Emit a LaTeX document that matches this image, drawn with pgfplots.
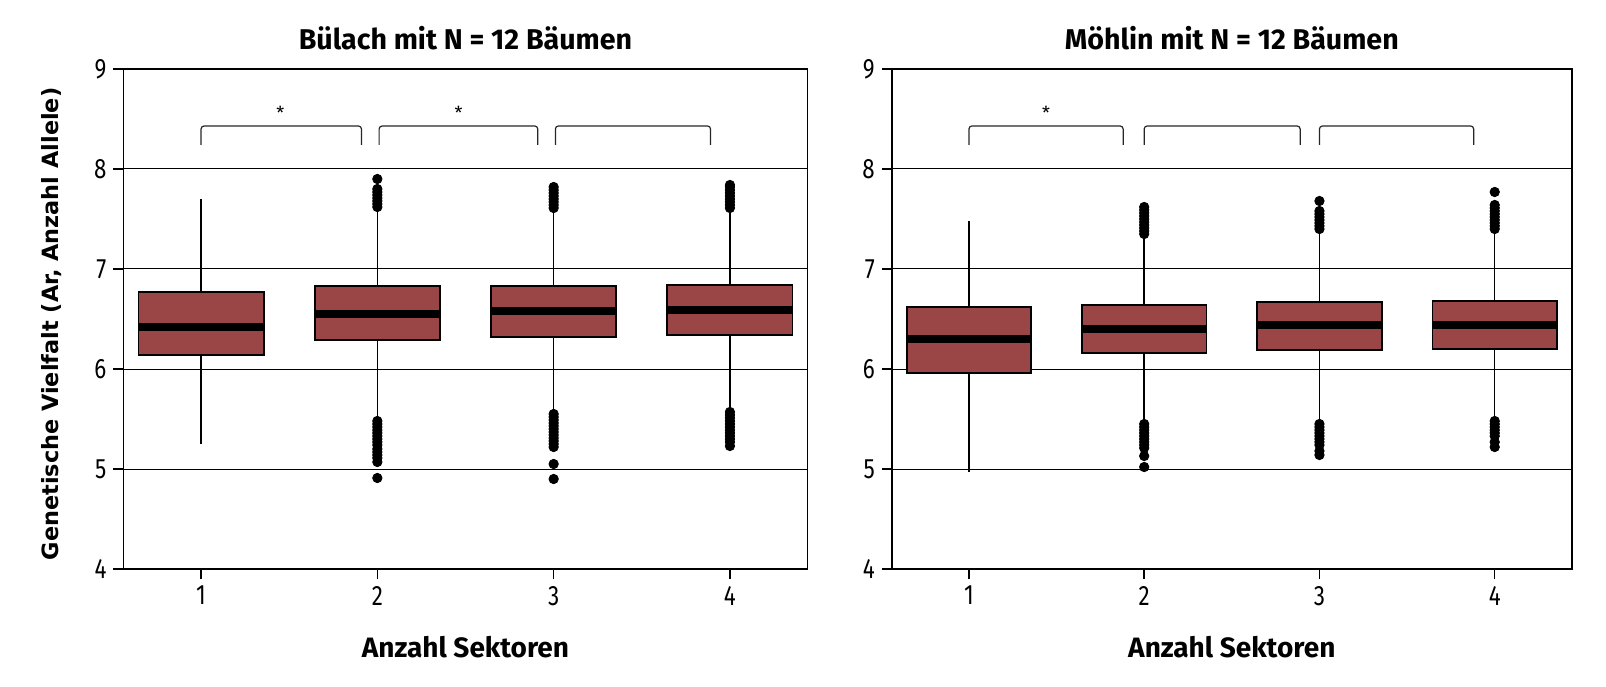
\documentclass[border=0pt]{standalone}
\usepackage{fontspec}
\setmainfont{Fira Sans}
\newfontfamily\tickfont[FakeStretch=0.8]{Fira Sans}
\newfontfamily\ylfont{DejaVu Sans}
\usepackage{pgfplots}
\pgfplotsset{compat=1.18}
\definecolor{boxred}{HTML}{9A4646}
\tikzset{brk/.style={black!85, line width=0.6pt, rounded corners=1.5pt}}
\pgfplotsset{
  myaxis/.style={
    scale only axis,
    width=#1, height=250pt,
    xmin=0.56, xmax=4.44,
    ymin=4, ymax=9,
    xtick={1,2,3,4},
    ytick={4,5,6,7,8,9},
    tick pos=left,
    tick align=outside,
    major tick length=5pt,
    ymajorgrids,
    grid style={black, line width=0.5pt},
    axis line style={line width=0.7pt},
    tick style={black, line width=0.7pt},
    /pgf/number format/assume math mode=true,
    ticklabel style={font=\tickfont\fontsize{14}{16}\selectfont},
    xlabel style={at={(axis description cs:0.5,0)}, anchor=base, yshift=-44pt, font=\fontsize{14}{16}\selectfont\bfseries},
  },
  whisk/.style={black, line width=0.75pt},
  boxs/.style={draw=black, line width=0.9pt, fill=boxred},
  med/.style={black, line width=3.6pt},
  outl/.style={only marks, mark=*, mark size=2.35pt, black, mark options={fill=black}},
}
\begin{document}
\begin{tikzpicture}
\useasboundingbox (-61.75pt,-58.5pt) rectangle (741.25pt,284.5pt);
% ---------------- Left: Buelach
\begin{axis}[myaxis=342pt, at={(0pt,0pt)}, name=L,
  xlabel={Anzahl Sektoren},
  ylabel={Genetische Vielfalt (Ar, Anzahl Allele)},
  ylabel style={at={(axis description cs:-0.1045,0.49)}, anchor=center, font=\ylfont\fontsize{11.2}{13}\selectfont\bfseries},
]
% sector 1
\addplot[whisk] coordinates {(1,5.25) (1,7.70)};
\addplot[boxs] coordinates {(0.645,6.14) (1.355,6.14) (1.355,6.77) (0.645,6.77)} -- cycle;
\addplot[med] coordinates {(0.645,6.42) (1.355,6.42)};
% sector 2
\addplot[whisk] coordinates {(2,5.50) (2,7.60)};
\addplot[boxs] coordinates {(1.645,6.29) (2.355,6.29) (2.355,6.83) (1.645,6.83)} -- cycle;
\addplot[med] coordinates {(1.645,6.55) (2.355,6.55)};
\addplot[outl] coordinates {(2,7.62) (2,7.65) (2,7.68) (2,7.71) (2,7.74) (2,7.77) (2,7.80) (2,7.90)
  (2,5.48) (2,5.45) (2,5.42) (2,5.39) (2,5.36) (2,5.33) (2,5.30) (2,5.27) (2,5.24) (2,5.20) (2,5.17) (2,5.14) (2,5.11) (2,5.07) (2,4.91)};
% sector 3
\addplot[whisk] coordinates {(3,5.57) (3,7.58)};
\addplot[boxs] coordinates {(2.645,6.32) (3.355,6.32) (3.355,6.83) (2.645,6.83)} -- cycle;
\addplot[med] coordinates {(2.645,6.58) (3.355,6.58)};
\addplot[outl] coordinates {(3,7.61) (3,7.64) (3,7.67) (3,7.70) (3,7.73) (3,7.76) (3,7.79) (3,7.82)
  (3,5.55) (3,5.52) (3,5.49) (3,5.46) (3,5.43) (3,5.40) (3,5.37) (3,5.34) (3,5.31) (3,5.28) (3,5.25) (3,5.22) (3,5.05) (3,4.90)};
% sector 4
\addplot[whisk] coordinates {(4,5.60) (4,7.58)};
\addplot[boxs] coordinates {(3.645,6.34) (4.355,6.34) (4.355,6.84) (3.645,6.84)} -- cycle;
\addplot[med] coordinates {(3.645,6.59) (4.355,6.59)};
\addplot[outl] coordinates {(4,7.61) (4,7.64) (4,7.67) (4,7.70) (4,7.73) (4,7.76) (4,7.79) (4,7.82) (4,7.84)
  (4,5.57) (4,5.54) (4,5.51) (4,5.48) (4,5.45) (4,5.42) (4,5.39) (4,5.36) (4,5.33) (4,5.30) (4,5.27) (4,5.23)};
% brackets
\draw[brk] (axis cs:1.00,8.24) -- (axis cs:1.00,8.43) -- (axis cs:1.91,8.43) -- (axis cs:1.91,8.24);
\draw[brk] (axis cs:2.01,8.24) -- (axis cs:2.01,8.43) -- (axis cs:2.91,8.43) -- (axis cs:2.91,8.24);
\draw[brk] (axis cs:3.01,8.24) -- (axis cs:3.01,8.43) -- (axis cs:3.89,8.43) -- (axis cs:3.89,8.24);
\node[font=\fontsize{9}{10}\selectfont] at (axis cs:1.45,8.56) {*};
\node[font=\fontsize{9}{10}\selectfont] at (axis cs:2.46,8.56) {*};
\end{axis}
\node[anchor=base, font=\fontsize{14.3}{16}\selectfont\bfseries] at ([yshift=9.5pt]L.north) {Bülach mit N = 12 Bäumen};
% ---------------- Right: Moehlin
\begin{axis}[myaxis=340pt, at={(384.15pt,0pt)}, name=R,
  xlabel={Anzahl Sektoren},
]
% sector 1
\addplot[whisk] coordinates {(1,4.97) (1,7.48)};
\addplot[boxs] coordinates {(0.645,5.96) (1.355,5.96) (1.355,6.62) (0.645,6.62)} -- cycle;
\addplot[med] coordinates {(0.645,6.30) (1.355,6.30)};
% sector 2
\addplot[whisk] coordinates {(2,5.46) (2,7.32)};
\addplot[boxs] coordinates {(1.645,6.16) (2.355,6.16) (2.355,6.64) (1.645,6.64)} -- cycle;
\addplot[med] coordinates {(1.645,6.40) (2.355,6.40)};
\addplot[outl] coordinates {(2,7.35) (2,7.38) (2,7.41) (2,7.44) (2,7.47) (2,7.50) (2,7.53) (2,7.56) (2,7.59) (2,7.62)
  (2,5.45) (2,5.42) (2,5.39) (2,5.36) (2,5.33) (2,5.30) (2,5.27) (2,5.24) (2,5.21) (2,5.13) (2,5.02)};
% sector 3
\addplot[whisk] coordinates {(3,5.47) (3,7.37)};
\addplot[boxs] coordinates {(2.645,6.19) (3.355,6.19) (3.355,6.67) (2.645,6.67)} -- cycle;
\addplot[med] coordinates {(2.645,6.44) (3.355,6.44)};
\addplot[outl] coordinates {(3,7.40) (3,7.43) (3,7.46) (3,7.49) (3,7.52) (3,7.55) (3,7.58) (3,7.68)
  (3,5.45) (3,5.42) (3,5.39) (3,5.36) (3,5.33) (3,5.30) (3,5.27) (3,5.24) (3,5.18) (3,5.14)};
% sector 4
\addplot[whisk] coordinates {(4,5.50) (4,7.36)};
\addplot[boxs] coordinates {(3.645,6.20) (4.355,6.20) (4.355,6.68) (3.645,6.68)} -- cycle;
\addplot[med] coordinates {(3.645,6.44) (4.355,6.44)};
\addplot[outl] coordinates {(4,7.40) (4,7.43) (4,7.46) (4,7.49) (4,7.52) (4,7.55) (4,7.58) (4,7.61) (4,7.64) (4,7.77)
  (4,5.48) (4,5.45) (4,5.42) (4,5.39) (4,5.36) (4,5.33) (4,5.27) (4,5.22)};
% brackets
\draw[brk] (axis cs:1.00,8.24) -- (axis cs:1.00,8.43) -- (axis cs:1.88,8.43) -- (axis cs:1.88,8.24);
\draw[brk] (axis cs:2.00,8.24) -- (axis cs:2.00,8.43) -- (axis cs:2.89,8.43) -- (axis cs:2.89,8.24);
\draw[brk] (axis cs:3.00,8.24) -- (axis cs:3.00,8.43) -- (axis cs:3.88,8.43) -- (axis cs:3.88,8.24);
\node[font=\fontsize{9}{10}\selectfont] at (axis cs:1.44,8.56) {*};
\end{axis}
\node[anchor=base, font=\fontsize{14.3}{16}\selectfont\bfseries] at ([yshift=9.5pt]R.north) {Möhlin mit N = 12 Bäumen};
\end{tikzpicture}
\end{document}
